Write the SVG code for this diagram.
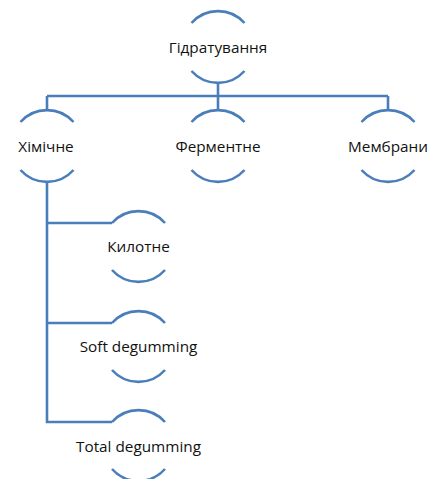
<svg xmlns="http://www.w3.org/2000/svg" width="435" height="479" viewBox="0 0 435 479">
<style>
.arc{fill:none;stroke:#4a7ebb;stroke-width:2.6}
.con{fill:none;stroke:#4a7ebb;stroke-width:2.6}
text{font-family:"Open Sans","Noto Sans",sans-serif;font-size:15.3px;fill:#111;text-anchor:middle}
</style>
<rect width="435" height="479" fill="#fff"/>
<g id="connectors">
<path class="con" d="M218 82 V111 M47 96 H388 M47 96 V111 M388 96 V111"/>
<path class="con" d="M47 181 V422 H112 M47 223 H112 M47 323 H112"/>
</g>
<g id="n-hidratuvannia">
<path class="arc" d="M191.5 23 A35.5 35.5 0 0 1 244.5 23 M191.5 71 A35.5 35.5 0 0 0 244.5 71"/>
<text x="218" y="53">Гідратування</text>
</g>
<g id="n-khimichne">
<path class="arc" d="M20.5 122 A35.5 35.5 0 0 1 73.5 122 M20.5 170 A35.5 35.5 0 0 0 73.5 170"/>
<text x="46" y="152">Хімічне</text>
</g>
<g id="n-fermentne">
<path class="arc" d="M191.5 122 A35.5 35.5 0 0 1 244.5 122 M191.5 170 A35.5 35.5 0 0 0 244.5 170"/>
<text x="218" y="152">Ферментне</text>
</g>
<g id="n-membrany">
<path class="arc" d="M361.5 122 A35.5 35.5 0 0 1 414.5 122 M361.5 170 A35.5 35.5 0 0 0 414.5 170"/>
<text x="388" y="152">Мембрани</text>
</g>
<g id="n-kylotne">
<path class="arc" d="M112 223 A35.5 35.5 0 0 1 165 223 M112 270 A35.5 35.5 0 0 0 165 270"/>
<text x="138.5" y="252">Килотне</text>
</g>
<g id="n-soft">
<path class="arc" d="M112 323 A35.5 35.5 0 0 1 165 323 M112 370 A35.5 35.5 0 0 0 165 370"/>
<text x="138.5" y="352">Soft degumming</text>
</g>
<g id="n-total">
<path class="arc" d="M112 422 A35.5 35.5 0 0 1 165 422 M112 469 A35.5 35.5 0 0 0 165 469"/>
<text x="138.5" y="452">Total degumming</text>
</g>
</svg>
